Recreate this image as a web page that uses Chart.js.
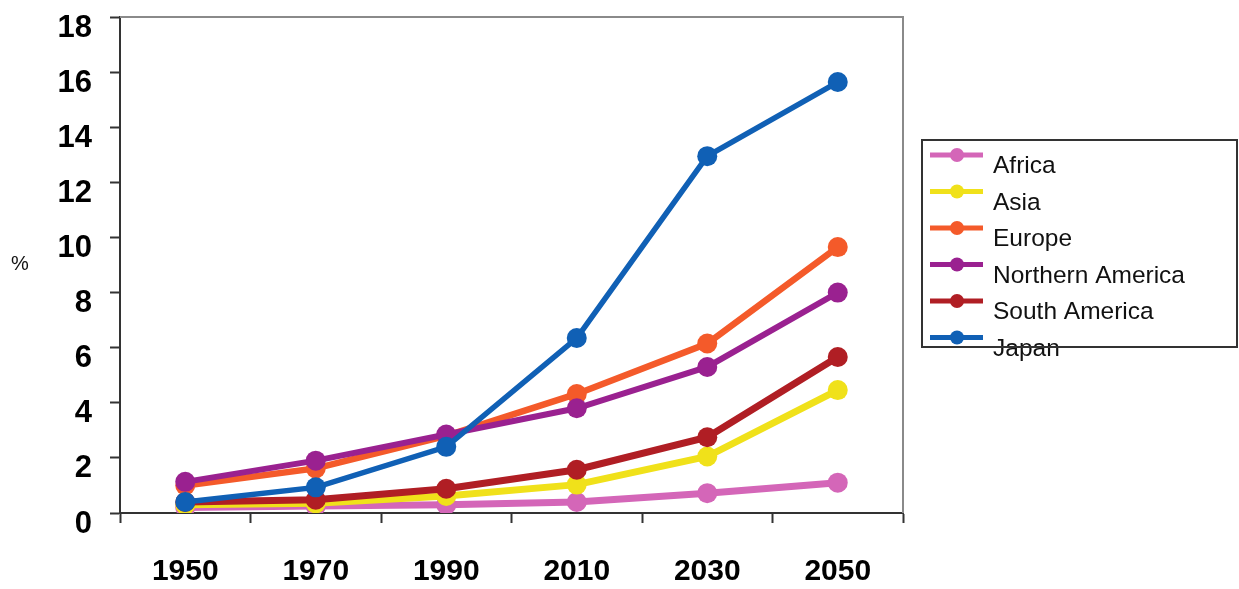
<!DOCTYPE html>
<html>
<head>
<meta charset="utf-8">
<script src="https://cdn.jsdelivr.net/npm/chart.js@4"></script>
<style>
  html, body { margin: 0; padding: 0; background: #fff; }
  #wrap { width: 1239px; height: 589px; }
</style>
</head>
<body>
<div id="wrap"><canvas id="c" width="1239" height="589"></canvas></div>
<script>
// ==========================================
// DATA
// ==========================================
const years = ['1950', '1970', '1990', '2010', '2030', '2050'];
const yTicks = [0, 2, 4, 6, 8, 10, 12, 14, 16, 18];

const africa       = [0.2, 0.25, 0.3, 0.4, 0.72, 1.1];
const asia         = [0.3, 0.35, 0.62, 1.03, 2.05, 4.46];
const europe       = [1.0, 1.62, 2.8, 4.32, 6.15, 9.65];
const northAmerica = [1.13, 1.9, 2.85, 3.8, 5.3, 8.0];
const southAmerica = [0.4, 0.48, 0.88, 1.57, 2.75, 5.66];
const japan        = [0.4, 0.93, 2.4, 6.35, 12.95, 15.64];

const seriesNames = ['Africa', 'Asia', 'Europe', 'Northern America', 'South America', 'Japan'];
const seriesColors = ['#d466b8', '#f0e11a', '#f45a2a', '#9a2190', '#b01e24', '#1060b5'];

// ==========================================
// CHART
// ==========================================
const FONT = '"Liberation Sans", Arial, Helvetica, sans-serif';

const mkSet = (label, data, color, order, width) => ({
    label, data, order,
    borderColor: color,
    backgroundColor: color,
    pointBackgroundColor: color,
    pointBorderWidth: 0,
    pointRadius: 10,
    borderWidth: width,
    tension: 0
});

const datasets = [
    mkSet(seriesNames[0], africa, seriesColors[0], 5, 7),
    mkSet(seriesNames[1], asia, seriesColors[1], 4, 7),
    mkSet(seriesNames[2], europe, seriesColors[2], 2, 6.5),
    mkSet(seriesNames[3], northAmerica, seriesColors[3], 1, 6),
    mkSet(seriesNames[4], southAmerica, seriesColors[4], 3, 7),
    mkSet(seriesNames[5], japan, seriesColors[5], 0, 5.5)
];

// frame (top/right grey lines) + custom legend box
const framePlugin = {
    id: 'frameAndLegend',
    afterDraw(chart) {
        const ctx = chart.ctx;
        const a = chart.chartArea;
        ctx.save();
        ctx.strokeStyle = '#8a8a8a';
        ctx.lineWidth = 2;
        ctx.beginPath();
        ctx.moveTo(a.left, a.top);
        ctx.lineTo(a.right, a.top);
        ctx.lineTo(a.right, a.bottom);
        ctx.stroke();

        // "%" axis label
        ctx.fillStyle = '#111';
        ctx.font = '20px ' + FONT;
        ctx.textAlign = 'left';
        ctx.textBaseline = 'alphabetic';
        ctx.fillText('%', 11, 270);

        // legend
        const bx = 922, by = 140, bw = 315, bh = 207;
        ctx.fillStyle = '#fff';
        ctx.fillRect(bx, by, bw, bh);
        const rowY0 = 155, rowStep = 36.5;
        chart.data.datasets.forEach((ds, i) => {
            const y = rowY0 + i * rowStep;
            ctx.strokeStyle = ds.borderColor;
            ctx.lineWidth = 5;
            ctx.beginPath();
            ctx.moveTo(930, y);
            ctx.lineTo(983, y);
            ctx.stroke();
            ctx.fillStyle = ds.borderColor;
            ctx.beginPath();
            ctx.arc(957, y, 7, 0, Math.PI * 2);
            ctx.fill();
            ctx.fillStyle = '#111';
            ctx.font = '24.5px ' + FONT;
            ctx.fillText(ds.label, 993, y + 18);
        });
        ctx.strokeStyle = '#333';
        ctx.lineWidth = 2;
        ctx.strokeRect(bx, by, bw, bh);
        ctx.restore();
    }
};

new Chart(document.getElementById('c').getContext('2d'), {
    type: 'line',
    data: { labels: years, datasets },
    plugins: [framePlugin],
    options: {
        responsive: false,
        animation: false,
        layout: { padding: { top: 17, right: 336, left: 0, bottom: 0 } },
        plugins: { legend: { display: false }, tooltip: { enabled: false } },
        scales: {
            x: {
                offset: true,
                grid: { offset: true, drawOnChartArea: false, drawTicks: true, tickLength: 10, tickColor: '#333', tickWidth: 2 },
                border: { color: '#333', width: 2 },
                ticks: { color: '#000', padding: 31, font: { family: FONT, size: 30, weight: 'bold' } },
                afterFit: (s) => { s.height = 76; s.paddingLeft = 0; s.paddingRight = 0; }
            },
            y: {
                min: 0, max: 18,
                afterBuildTicks: (s) => { s.ticks = yTicks.map(v => ({ value: v })); },
                grid: { drawOnChartArea: false, drawTicks: true, tickLength: 10, tickColor: '#333', tickWidth: 2 },
                border: { color: '#333', width: 2 },
                ticks: { color: '#000', padding: 18, labelOffset: 11, font: { family: FONT, size: 31, weight: 'bold' } },
                afterFit: (s) => { s.width = 120; s.paddingTop = 0; s.paddingBottom = 0; }
            }
        }
    }
});
</script>
</body>
</html>
